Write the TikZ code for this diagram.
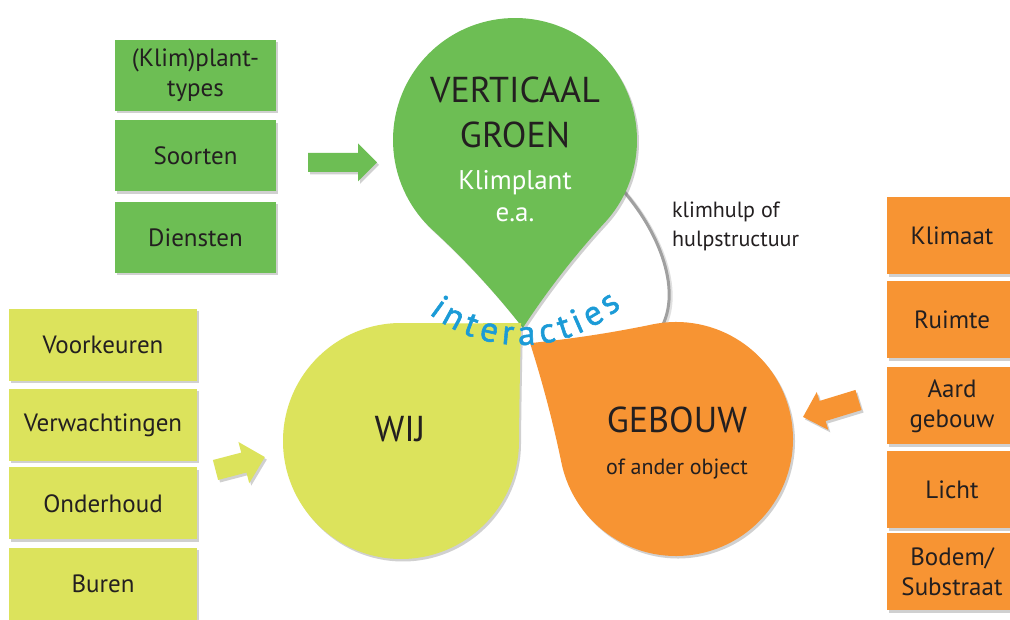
\documentclass[tikz,border=0pt]{standalone}
\usepackage{fontspec}
\setmainfont{PT Sans}
\newfontfamily\blufamily{PT Sans}[FakeBold=1.6]
\usetikzlibrary{shadows}
\definecolor{cgreen}{RGB}{109,190,84}
\definecolor{cyellow}{RGB}{220,227,92}
\definecolor{corange}{RGB}{247,148,51}
\definecolor{cblue}{RGB}{27,155,215}
\definecolor{ctext}{RGB}{35,31,32}
\definecolor{cgrey}{RGB}{160,160,160}
\newcommand{\tdrop}[6]{%
  \path[fill=#6, myshadow, shift={(#1,#2)}, rotate=#5]
    (0,#3) .. controls ({#4/3},#3) and ({2*#4/3},{#4/3+2*#3/3}) .. (#4,#4)
    .. controls ({#4/3+2*#3/3},{2*#4/3}) and (#3,{#4/3}) .. (#3,0)
    arc[start angle=0, end angle=-270, radius=#3] -- cycle;}
\newcommand{\bigfnt}{\fontsize{36}{36}\selectfont}
\newcommand{\blufnt}{\blufamily\fontsize{35}{35}\selectfont}
\tikzset{
  myshadow/.style={drop shadow={shadow xshift=2pt, shadow yshift=-2.5pt, opacity=0.3, fill=black!60}},
  boxbase/.style={inner sep=0pt, align=center, text=ctext, font=\fontsize{25}{30}\selectfont, myshadow},
  gbox/.style={boxbase, fill=cgreen, minimum width=161pt, minimum height=71pt},
  ybox/.style={boxbase, fill=cyellow, minimum width=188pt, minimum height=72pt},
  obox/.style={boxbase, fill=corange, minimum width=130pt, minimum height=77pt},
  bigtxt/.style={anchor=base, text=ctext, font=\bigfnt, inner sep=0pt},
  midtxt/.style={anchor=base, font=\fontsize{27}{27}\selectfont, inner sep=0pt},
  smalltxt/.style={anchor=base, text=ctext, font=\fontsize{22}{22}\selectfont, inner sep=0pt},
  bluletter/.style={anchor=base, text=cblue, font=\blufnt, inner sep=0pt},
}
\begin{document}
\begin{tikzpicture}[x=1pt,y=1pt]
\useasboundingbox (0,0) rectangle (1010,619);
\fill[white] (0,0) rectangle (1010,619);
\clip (0,0) rectangle (1010,619);

% grey support curve
\coordinate (cs) at (618,434);
\coordinate (ce) at (660,289);
\draw[line width=4pt, black, opacity=0.12] ([shift={(1.5,-1.5)}]cs) .. controls (656.5,393.5) and (686.5,328.5) .. ([shift={(1.5,-1.5)}]ce);
\draw[line width=3pt, cgrey] (cs) .. controls (655,395) and (685,330) .. (ce);

% teardrops
\tdrop{515}{479}{122}{133}{-132.6}{cgreen}
\tdrop{401}{178}{118}{119}{-0.5}{cyellow}
\tdrop{676}{180}{117}{123.5}{101.7}{corange}

% block arrows
\path[fill=cgreen, myshadow, shift={(308,456.5)}]
  (0,-9.5) -- (50,-9.5) -- (50,-19) -- (69,0) -- (50,19) -- (50,9.5) -- (0,9.5) -- cycle;
\path[fill=cyellow, myshadow, shift={(215.5,149)}, rotate=14.7]
  (0,-10.3) -- (29.3,-10.3) -- (29.3,-21.3) -- (51,0) -- (29.3,21.3) -- (29.3,10.3) -- (0,10.3) -- cycle;
\path[fill=corange, myshadow, shift={(858.5,219)}, rotate=197]
  (0,-10.5) -- (37.6,-10.5) -- (37.6,-19.8) -- (58,0) -- (37.6,19.8) -- (37.6,10.5) -- (0,10.5) -- cycle;

% boxes
\node[gbox] (g1) at (195.5,543.5) {(Klim)plant-\\types};
\node[gbox] (g2) at (195.5,463) {Soorten};
\node[gbox] (g3) at (195.5,381.5) {Diensten};

\node[ybox] (y1) at (103,274) {Voorkeuren};
\node[ybox] (y2) at (103,194) {Verwachtingen};
\node[ybox] (y3) at (103,115.5) {Onderhoud};
\node[ybox] (y4) at (103,35) {Buren};

\node[obox] (o1) at (952,383) {Klimaat};
\node[obox] (o2) at (952,299) {Ruimte};
\node[obox] (o3) at (952,213) {Aard\\gebouw};
\node[obox] (o4) at (952,129) {Licht};
\node[obox] (o5) at (952,47.5) {Bodem/\\Substraat};

% labels
\node[bigtxt] (vg1) at (515,516) {VERTICAAL};
\node[bigtxt] (vg2) at (515,471) {GROEN};
\node[midtxt, text=white] (kl1) at (515,429) {Klimplant};
\node[midtxt, text=white] (kl2) at (515,397) {e.a.};
\node[bigtxt] (wij) at (400,177) {WIJ};
\node[bigtxt] (geb) at (677,186) {GEBOUW};
\node[smalltxt] (geb2) at (677,144) {of ander object};
\node[smalltxt, anchor=base west] (kh1) at (672,401) {klimhulp of};
\node[smalltxt, anchor=base west] (kh2) at (672,372) {hulpstructuur};

% interacties (letters along an arc)
\foreach \ch/\ang [count=\k] in {i/234.1, n/241.4, t/249.3, e/257.0, r/264.7,
    a/272.3, c/280.7, t/287.9, i/293.7, e/300.8, s/309.0}
  \node[bluletter, rotate=\ang-270] (ia\k) at ([shift={(\ang:151)}]521,425) {\ch};
\end{tikzpicture}
\end{document}
